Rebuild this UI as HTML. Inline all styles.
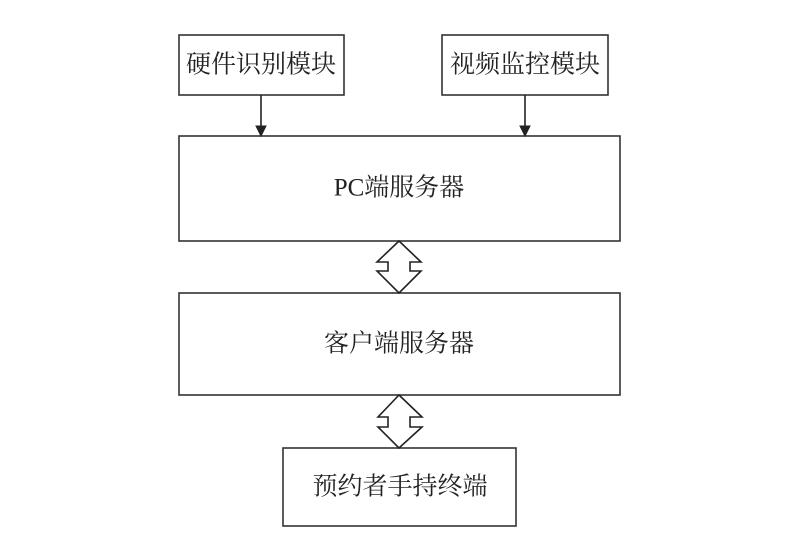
<!DOCTYPE html>
<html><head><meta charset="utf-8"><style>
html,body{margin:0;padding:0;background:#fff;}
svg{display:block;}
text{font-family:"Liberation Serif","Noto Serif CJK SC",serif;font-size:25px;fill:#222;}
</style></head><body>
<svg width="800" height="560" viewBox="0 0 800 560" xmlns="http://www.w3.org/2000/svg">
<g fill="#fff" stroke="#333" stroke-width="1.6">
<rect x="179" y="35" width="165" height="60"/>
<rect x="442" y="35" width="166" height="60"/>
<rect x="179" y="136" width="441" height="105"/>
<rect x="179" y="293" width="441" height="102"/>
<rect x="283" y="448" width="233" height="78"/>
</g>
<g stroke="#222" stroke-width="1.6" fill="#222">
<line x1="261" y1="95" x2="261" y2="127"/>
<polygon points="256,126 266,126 261,136" stroke-width="1"/>
<line x1="525" y1="95" x2="525" y2="127"/>
<polygon points="520,126 530,126 525,136" stroke-width="1"/>
</g>
<g fill="#fff" stroke="#222" stroke-width="1.6" stroke-linejoin="miter">
<polygon points="399,241 421,262 410,262 410,271 421,271 399,293 377,271 388,271 388,262 377,262"/>
<polygon points="399,395 422,417 410,417 410,427 422,427 399,448 378,427 388,427 388,417 378,417"/>
</g>
<text x="261" y="65" text-anchor="middle" dominant-baseline="central">硬件识别模块</text>
<text x="525" y="65" text-anchor="middle" dominant-baseline="central">视频监控模块</text>
<text x="399" y="188" text-anchor="middle" dominant-baseline="central">PC端服务器</text>
<text x="399" y="344" text-anchor="middle" dominant-baseline="central">客户端服务器</text>
<text x="400" y="487" text-anchor="middle" dominant-baseline="central">预约者手持终端</text>
</svg>
</body></html>
